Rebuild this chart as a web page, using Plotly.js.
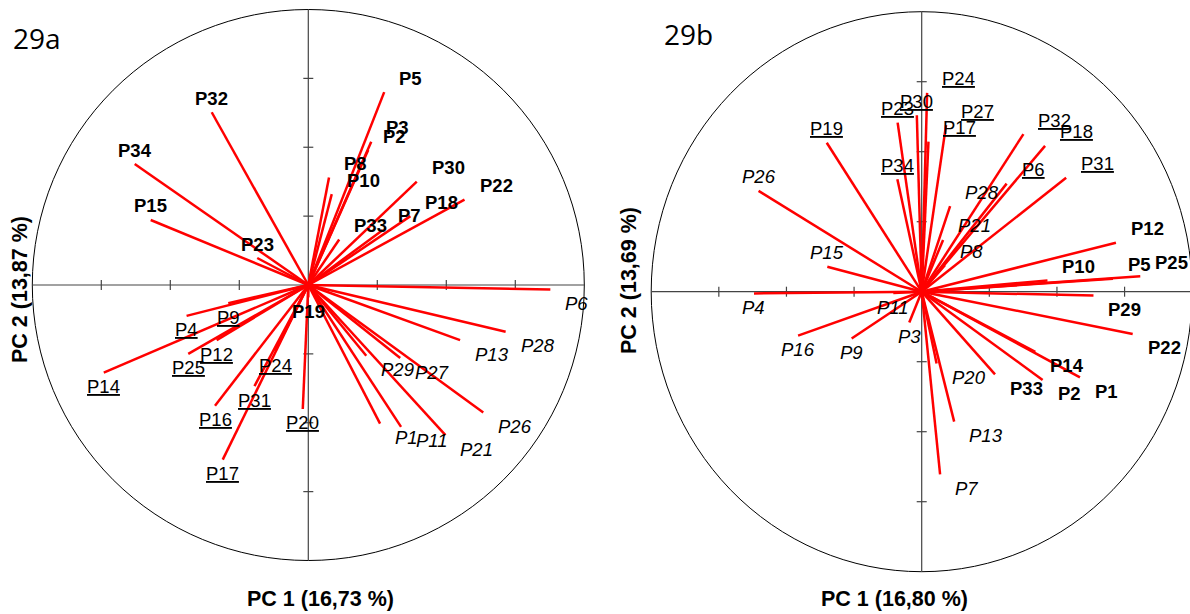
<!DOCTYPE html>
<html>
<head>
<meta charset="utf-8">
<script src="https://cdn.plot.ly/plotly-3.0.1.min.js"></script>
<style>html,body{margin:0;padding:0;background:#fff}#chart{width:1190px;height:614px}</style>
</head>
<body>
<div id="chart"></div>
<script>
// ---------- DATA ----------
const varNames = ['P1','P2','P3','P4','P5','P6','P7','P8','P9','P10','P11','P12','P13','P14','P15','P16','P17',
                  'P18','P19','P20','P21','P22','P23','P24','P25','P26','P27','P28','P29','P30','P31','P32','P33','P34'];

// Panel 29a loadings
const pc1A = [0.26,0.217,0.228,-0.441,0.275,0.877,0.27,0.075,-0.29,0.085,0.336,-0.332,0.55,-0.741,-0.571,-0.338,-0.31,
              0.37,0.0,-0.02,0.497,0.566,-0.185,-0.12,-0.435,0.634,0.333,0.715,0.21,0.393,-0.195,-0.35,0.112,-0.629];
const pc2A = [-0.503,0.49,0.52,-0.112,0.70,-0.016,0.2,0.39,-0.066,0.33,-0.515,-0.2,-0.2,-0.318,0.236,-0.438,-0.634,
              0.25,-0.045,-0.45,-0.545,0.31,0.098,-0.24,-0.25,-0.463,-0.265,-0.17,-0.257,0.375,-0.367,0.627,0.165,0.439];
const groupA = ['i','b','b','u','b','i','b','b','u','b','i','u','i','u','b','u','u',
                'b','b','u','i','b','b','u','u','i','i','i','i','b','u','b','b','b'];

// Panel 29b loadings
const pc1B = [0.585,0.447,-0.046,-0.62,0.707,0.314,0.068,0.086,-0.259,0.465,-0.105,0.718,0.12,0.42,-0.349,-0.457,0.025,
              0.456,-0.351,0.055,0.079,0.78,-0.089,0.02,0.808,-0.603,0.09,0.105,0.635,-0.018,0.534,0.376,0.271,-0.09];
const pc2B = [-0.306,-0.315,-0.11,-0.006,0.046,0.386,-0.652,0.095,-0.167,0.04,-0.005,0.175,-0.464,-0.215,0.089,-0.157,0.536,
              0.521,0.532,-0.256,0.185,-0.151,0.604,0.71,0.055,0.36,0.595,0.306,-0.014,0.63,0.407,0.563,-0.295,0.402];
const groupB = ['b','b','i','i','b','u','i','i','i','b','i','b','i','b','i','i','u',
                'u','u','i','i','b','u','u','b','i','u','i','b','u','u','u','b','u'];

const panelTitles = ['29a','29b'];
const xTitles = ['PC 1 (16,73 %)','PC 1 (16,80 %)'];
const yTitles = ['PC 2 (13,87 %)','PC 2 (13,69 %)'];
const tickVals = [-0.75,-0.5,-0.25,0.25,0.5,0.75];

// ---------- LAYOUT GEOMETRY ----------
const W = 1190, H = 614;
const geo = [
  {cx:308.3, cy:285, rx:276, ry:275.5, left:0, right:595, xa:'x', ya:'y'},
  {cx:921.7, cy:291.7, rx:270.5, ry:280, left:600, right:1190, xa:'x2', ya:'y2'}
];
const LABEL_FONT = 'Liberation Sans, Arial, sans-serif';

function wrap(name, g){
  if(g==='b') return '<b>'+name+'</b>';
  if(g==='i') return '<i>'+name+'</i>';
  return '<u>'+name+'</u>';
}

const traces = [];
const shapes = [];
const annotations = [];
const layout = {
  width: W, height: H, autosize:false,
  margin:{l:0,r:0,t:0,b:0,pad:0},
  paper_bgcolor:'#fff', plot_bgcolor:'rgba(0,0,0,0)',
  showlegend:false, hovermode:false
};

const panels = [
  {x:pc1A, y:pc2A, g:groupA},
  {x:pc1B, y:pc2B, g:groupB}
];

panels.forEach((p, k) => {
  const G = geo[k];
  const axSuffix = k===0 ? '' : '2';
  const axCommon = {showgrid:false, zeroline:false, showticklabels:false, showline:false, ticks:'', fixedrange:true};
  layout['xaxis'+axSuffix] = Object.assign({}, axCommon, {
    domain:[G.left/W, G.right/W],
    range:[(G.left-G.cx)/G.rx, (G.right-G.cx)/G.rx],
    anchor: 'y'+axSuffix
  });
  layout['yaxis'+axSuffix] = Object.assign({}, axCommon, {
    domain:[0,1],
    range:[(G.cy-H)/G.ry, G.cy/G.ry],
    anchor: 'x'+axSuffix
  });

  // circle
  shapes.push({type:'circle', xref:G.xa, yref:G.ya, x0:-1, y0:-1, x1:1, y1:1,
               line:{color:'#000', width:1}, layer:'below'});
  // axes
  shapes.push({type:'line', xref:G.xa, yref:G.ya, x0:-1, x1:1, y0:0, y1:0, line:{color:'#444', width:1.2}, layer:'below'});
  shapes.push({type:'line', xref:G.xa, yref:G.ya, x0:0, x1:0, y0:-1, y1:1, line:{color:'#444', width:1.2}, layer:'below'});
  tickVals.forEach(t => {
    shapes.push({type:'line', xref:G.xa, yref:G.ya, x0:t, x1:t, ysizemode:'pixel', yanchor:0, y0:-5, y1:5,
                 line:{color:'#444', width:1.2}, layer:'below'});
    shapes.push({type:'line', xref:G.xa, yref:G.ya, y0:t, y1:t, xsizemode:'pixel', xanchor:0, x0:-5, x1:5,
                 line:{color:'#444', width:1.2}, layer:'below'});
  });

  // loading vectors
  const lx = [], ly = [];
  p.x.forEach((v,i) => { lx.push(0, v, null); ly.push(0, p.y[i], null); });
  traces.push({type:'scatter', mode:'lines', x:lx, y:ly, xaxis:G.xa, yaxis:G.ya,
               line:{color:'#ff0000', width:2.5}, connectgaps:false, hoverinfo:'skip'});

  // labels
  p.x.forEach((v,i) => {
    const right = v > 0.005;
    annotations.push({
      xref:G.xa, yref:G.ya, x:v, y:p.y[i], showarrow:false,
      text: wrap(varNames[i], p.g[i]),
      xanchor: right ? 'left' : 'center', yanchor:'middle',
      xshift: right ? 13 : 0, yshift: p.y[i] >= 0 ? 14 : -14,
      font:{family:LABEL_FONT, size:18.5, color:'#000'}
    });
  });
});

// titles
annotations.push({xref:'paper', yref:'paper', x:11/W, y:1-38/H, xanchor:'left', yanchor:'middle', showarrow:false,
  text:panelTitles[0], font:{family:'Open Sans, sans-serif', size:28, color:'#000'}});
annotations.push({xref:'paper', yref:'paper', x:662/W, y:1-34/H, xanchor:'left', yanchor:'middle', showarrow:false,
  text:panelTitles[1], font:{family:'Open Sans, sans-serif', size:28, color:'#000'}});
annotations.push({xref:'paper', yref:'paper', x:320/W, y:1-599/H, xanchor:'center', yanchor:'middle', showarrow:false,
  text:'<b>'+xTitles[0]+'</b>', font:{family:LABEL_FONT, size:21.5, color:'#000'}});
annotations.push({xref:'paper', yref:'paper', x:894/W, y:1-599/H, xanchor:'center', yanchor:'middle', showarrow:false,
  text:'<b>'+xTitles[1]+'</b>', font:{family:LABEL_FONT, size:21.5, color:'#000'}});
annotations.push({xref:'paper', yref:'paper', x:20/W, y:1-290/H, xanchor:'center', yanchor:'middle', showarrow:false,
  textangle:-90, text:'<b>'+yTitles[0]+'</b>', font:{family:LABEL_FONT, size:21.5, color:'#000'}});
annotations.push({xref:'paper', yref:'paper', x:629/W, y:1-281/H, xanchor:'center', yanchor:'middle', showarrow:false,
  textangle:-90, text:'<b>'+yTitles[1]+'</b>', font:{family:LABEL_FONT, size:21.5, color:'#000'}});

layout.shapes = shapes;
layout.annotations = annotations;

Plotly.newPlot('chart', traces, layout, {staticPlot:true, displayModeBar:false});
</script>
</body>
</html>
